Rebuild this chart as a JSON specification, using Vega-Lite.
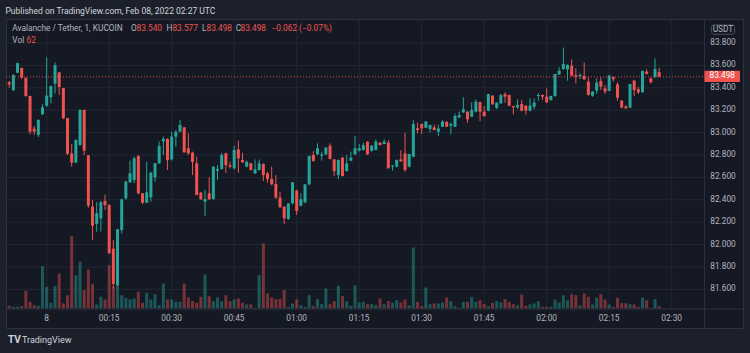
{
"$schema": "https://vega.github.io/schema/vega-lite/v6.json",
"width": 737, "height": 309,
"autosize": {"type": "none"},
"padding": {"left": 6, "top": 19, "right": 7, "bottom": 25},
"background": "#1c202b",
"config": {"view": {"fill": "#151924", "stroke": "#2e3240", "strokeWidth": 1}, "font": "Roboto"},
"title": {"text": "Published on TradingView.com, Feb 08, 2022 02:27 UTC", "anchor": "start", "fontSize": 8.5, "fontWeight": "normal", "color": "#d1d4dc", "offset": 3},
"datasets": {"candles": [
{"t":"2022-02-07T23:51Z","o":83.45,"h":83.46,"l":83.40,"c":83.43,"v":80},
{"t":"2022-02-07T23:52Z","o":83.38,"h":83.52,"l":83.37,"c":83.515,"v":50},
{"t":"2022-02-07T23:53Z","o":83.535,"h":83.625,"l":83.53,"c":83.62,"v":50},
{"t":"2022-02-07T23:54Z","o":83.577,"h":83.58,"l":83.48,"c":83.49,"v":70},
{"t":"2022-02-07T23:55Z","o":83.49,"h":83.49,"l":83.32,"c":83.327,"v":530},
{"t":"2022-02-07T23:56Z","o":83.327,"h":83.33,"l":82.985,"c":83.009,"v":200},
{"t":"2022-02-07T23:57Z","o":83.035,"h":83.06,"l":82.98,"c":83.009,"v":100},
{"t":"2022-02-07T23:58Z","o":82.98,"h":83.12,"l":82.96,"c":83.113,"v":80},
{"t":"2022-02-07T23:59Z","o":83.163,"h":83.253,"l":83.16,"c":83.226,"v":1270},
{"t":"2022-02-08T00:00Z","o":83.24,"h":83.672,"l":83.23,"c":83.33,"v":650},
{"t":"2022-02-08T00:01Z","o":83.315,"h":83.42,"l":83.26,"c":83.416,"v":170},
{"t":"2022-02-08T00:02Z","o":83.437,"h":83.625,"l":83.35,"c":83.601,"v":670},
{"t":"2022-02-08T00:03Z","o":83.538,"h":83.54,"l":83.336,"c":83.407,"v":1050},
{"t":"2022-02-08T00:04Z","o":83.398,"h":83.40,"l":83.12,"c":83.128,"v":150},
{"t":"2022-02-08T00:05Z","o":83.13,"h":83.13,"l":82.80,"c":82.812,"v":400},
{"t":"2022-02-08T00:06Z","o":82.815,"h":82.898,"l":82.696,"c":82.732,"v":2170},
{"t":"2022-02-08T00:07Z","o":82.732,"h":82.94,"l":82.73,"c":82.934,"v":1000},
{"t":"2022-02-08T00:08Z","o":82.89,"h":83.21,"l":82.88,"c":83.202,"v":1400},
{"t":"2022-02-08T00:09Z","o":83.202,"h":83.205,"l":82.80,"c":82.839,"v":550},
{"t":"2022-02-08T00:10Z","o":82.797,"h":82.80,"l":82.33,"c":82.348,"v":1170},
{"t":"2022-02-08T00:11Z","o":82.339,"h":82.40,"l":82.04,"c":82.169,"v":730},
{"t":"2022-02-08T00:12Z","o":82.184,"h":82.38,"l":82.115,"c":82.28,"v":120},
{"t":"2022-02-08T00:13Z","o":82.235,"h":82.39,"l":82.116,"c":82.378,"v":350},
{"t":"2022-02-08T00:14Z","o":82.39,"h":82.446,"l":82.31,"c":82.354,"v":270},
{"t":"2022-02-08T00:15Z","o":82.354,"h":82.36,"l":81.92,"c":81.922,"v":1300},
{"t":"2022-02-08T00:16Z","o":81.964,"h":82.04,"l":81.61,"c":81.648,"v":650},
{"t":"2022-02-08T00:17Z","o":81.64,"h":82.14,"l":81.63,"c":82.137,"v":850},
{"t":"2022-02-08T00:18Z","o":82.13,"h":82.41,"l":82.10,"c":82.404,"v":400},
{"t":"2022-02-08T00:19Z","o":82.413,"h":82.57,"l":82.40,"c":82.562,"v":320},
{"t":"2022-02-08T00:20Z","o":82.556,"h":82.75,"l":82.55,"c":82.637,"v":280},
{"t":"2022-02-08T00:21Z","o":82.577,"h":82.785,"l":82.55,"c":82.77,"v":300},
{"t":"2022-02-08T00:22Z","o":82.79,"h":82.80,"l":82.45,"c":82.458,"v":500},
{"t":"2022-02-08T00:23Z","o":82.458,"h":82.46,"l":82.36,"c":82.374,"v":170},
{"t":"2022-02-08T00:24Z","o":82.374,"h":82.74,"l":82.37,"c":82.467,"v":470},
{"t":"2022-02-08T00:25Z","o":82.422,"h":82.65,"l":82.383,"c":82.642,"v":270},
{"t":"2022-02-08T00:26Z","o":82.60,"h":82.73,"l":82.562,"c":82.726,"v":430},
{"t":"2022-02-08T00:27Z","o":82.726,"h":82.92,"l":82.72,"c":82.88,"v":100},
{"t":"2022-02-08T00:28Z","o":82.922,"h":82.964,"l":82.80,"c":82.943,"v":750},
{"t":"2022-02-08T00:29Z","o":82.943,"h":82.95,"l":82.666,"c":82.755,"v":270},
{"t":"2022-02-08T00:30Z","o":82.76,"h":83.008,"l":82.75,"c":82.964,"v":270},
{"t":"2022-02-08T00:31Z","o":82.964,"h":83.023,"l":82.874,"c":83.005,"v":200},
{"t":"2022-02-08T00:32Z","o":83.01,"h":83.112,"l":83.00,"c":83.068,"v":200},
{"t":"2022-02-08T00:33Z","o":83.047,"h":83.05,"l":82.82,"c":82.824,"v":750},
{"t":"2022-02-08T00:34Z","o":82.86,"h":82.993,"l":82.80,"c":82.815,"v":330},
{"t":"2022-02-08T00:35Z","o":82.821,"h":82.83,"l":82.621,"c":82.737,"v":220},
{"t":"2022-02-08T00:36Z","o":82.726,"h":82.785,"l":82.44,"c":82.443,"v":170},
{"t":"2022-02-08T00:37Z","o":82.464,"h":82.47,"l":82.40,"c":82.404,"v":350},
{"t":"2022-02-08T00:38Z","o":82.383,"h":82.49,"l":82.255,"c":82.407,"v":1020},
{"t":"2022-02-08T00:39Z","o":82.458,"h":82.60,"l":82.40,"c":82.404,"v":370},
{"t":"2022-02-08T00:40Z","o":82.407,"h":82.70,"l":82.40,"c":82.696,"v":220},
{"t":"2022-02-08T00:41Z","o":82.66,"h":82.71,"l":82.577,"c":82.675,"v":330},
{"t":"2022-02-08T00:42Z","o":82.675,"h":82.82,"l":82.67,"c":82.80,"v":220},
{"t":"2022-02-08T00:43Z","o":82.815,"h":82.82,"l":82.64,"c":82.71,"v":400},
{"t":"2022-02-08T00:44Z","o":82.71,"h":82.74,"l":82.68,"c":82.696,"v":220},
{"t":"2022-02-08T00:45Z","o":82.681,"h":82.883,"l":82.67,"c":82.845,"v":270},
{"t":"2022-02-08T00:46Z","o":82.85,"h":82.928,"l":82.642,"c":82.77,"v":300},
{"t":"2022-02-08T00:47Z","o":82.755,"h":82.82,"l":82.73,"c":82.735,"v":170},
{"t":"2022-02-08T00:48Z","o":82.696,"h":82.75,"l":82.69,"c":82.74,"v":120},
{"t":"2022-02-08T00:49Z","o":82.726,"h":82.73,"l":82.66,"c":82.666,"v":120},
{"t":"2022-02-08T00:50Z","o":82.636,"h":82.76,"l":82.63,"c":82.672,"v":20},
{"t":"2022-02-08T00:51Z","o":82.666,"h":82.76,"l":82.66,"c":82.726,"v":1000},
{"t":"2022-02-08T00:52Z","o":82.72,"h":82.725,"l":82.568,"c":82.62,"v":1950},
{"t":"2022-02-08T00:53Z","o":82.636,"h":82.65,"l":82.553,"c":82.586,"v":450},
{"t":"2022-02-08T00:54Z","o":82.586,"h":82.696,"l":82.53,"c":82.538,"v":330},
{"t":"2022-02-08T00:55Z","o":82.541,"h":82.621,"l":82.41,"c":82.419,"v":280},
{"t":"2022-02-08T00:56Z","o":82.419,"h":82.473,"l":82.33,"c":82.333,"v":280},
{"t":"2022-02-08T00:57Z","o":82.339,"h":82.34,"l":82.184,"c":82.235,"v":550},
{"t":"2022-02-08T00:58Z","o":82.229,"h":82.37,"l":82.22,"c":82.368,"v":50},
{"t":"2022-02-08T00:59Z","o":82.368,"h":82.56,"l":82.36,"c":82.556,"v":150},
{"t":"2022-02-08T01:00Z","o":82.482,"h":82.49,"l":82.264,"c":82.30,"v":270},
{"t":"2022-02-08T01:01Z","o":82.348,"h":82.458,"l":82.34,"c":82.404,"v":100},
{"t":"2022-02-08T01:02Z","o":82.377,"h":82.54,"l":82.37,"c":82.538,"v":50},
{"t":"2022-02-08T01:03Z","o":82.538,"h":82.795,"l":82.53,"c":82.791,"v":400},
{"t":"2022-02-08T01:04Z","o":82.80,"h":82.836,"l":82.74,"c":82.746,"v":70},
{"t":"2022-02-08T01:05Z","o":82.806,"h":82.904,"l":82.80,"c":82.86,"v":280},
{"t":"2022-02-08T01:06Z","o":82.794,"h":82.83,"l":82.75,"c":82.806,"v":130},
{"t":"2022-02-08T01:07Z","o":82.806,"h":82.87,"l":82.80,"c":82.866,"v":600},
{"t":"2022-02-08T01:08Z","o":82.883,"h":82.904,"l":82.76,"c":82.764,"v":130},
{"t":"2022-02-08T01:09Z","o":82.761,"h":82.765,"l":82.613,"c":82.657,"v":220},
{"t":"2022-02-08T01:10Z","o":82.621,"h":82.76,"l":82.586,"c":82.755,"v":680},
{"t":"2022-02-08T01:11Z","o":82.776,"h":82.785,"l":82.61,"c":82.612,"v":370},
{"t":"2022-02-08T01:12Z","o":82.657,"h":82.80,"l":82.65,"c":82.726,"v":220},
{"t":"2022-02-08T01:13Z","o":82.749,"h":82.83,"l":82.745,"c":82.776,"v":80},
{"t":"2022-02-08T01:14Z","o":82.806,"h":82.97,"l":82.80,"c":82.86,"v":700},
{"t":"2022-02-08T01:15Z","o":82.839,"h":82.898,"l":82.83,"c":82.86,"v":180},
{"t":"2022-02-08T01:16Z","o":82.845,"h":82.91,"l":82.84,"c":82.889,"v":200},
{"t":"2022-02-08T01:17Z","o":82.919,"h":82.92,"l":82.80,"c":82.806,"v":130},
{"t":"2022-02-08T01:18Z","o":82.836,"h":82.89,"l":82.83,"c":82.883,"v":130},
{"t":"2022-02-08T01:19Z","o":82.845,"h":82.94,"l":82.84,"c":82.919,"v":100},
{"t":"2022-02-08T01:20Z","o":82.91,"h":82.915,"l":82.885,"c":82.889,"v":300},
{"t":"2022-02-08T01:21Z","o":82.898,"h":82.94,"l":82.895,"c":82.919,"v":130},
{"t":"2022-02-08T01:22Z","o":82.91,"h":82.934,"l":82.68,"c":82.681,"v":220},
{"t":"2022-02-08T01:23Z","o":82.696,"h":82.71,"l":82.66,"c":82.705,"v":170},
{"t":"2022-02-08T01:24Z","o":82.696,"h":82.76,"l":82.69,"c":82.755,"v":250},
{"t":"2022-02-08T01:25Z","o":82.761,"h":82.844,"l":82.74,"c":82.743,"v":180},
{"t":"2022-02-08T01:26Z","o":82.815,"h":83.00,"l":82.651,"c":82.666,"v":270},
{"t":"2022-02-08T01:27Z","o":82.696,"h":82.81,"l":82.69,"c":82.809,"v":100},
{"t":"2022-02-08T01:28Z","o":82.785,"h":83.11,"l":82.78,"c":83.077,"v":1830},
{"t":"2022-02-08T01:29Z","o":83.038,"h":83.089,"l":82.993,"c":83.023,"v":200},
{"t":"2022-02-08T01:30Z","o":83.077,"h":83.08,"l":82.99,"c":83.038,"v":70},
{"t":"2022-02-08T01:31Z","o":83.044,"h":83.10,"l":83.04,"c":83.099,"v":630},
{"t":"2022-02-08T01:32Z","o":83.032,"h":83.07,"l":83.00,"c":83.068,"v":130},
{"t":"2022-02-08T01:33Z","o":83.047,"h":83.07,"l":83.02,"c":83.023,"v":150},
{"t":"2022-02-08T01:34Z","o":83.008,"h":83.07,"l":82.97,"c":83.038,"v":150},
{"t":"2022-02-08T01:35Z","o":83.053,"h":83.11,"l":83.05,"c":83.098,"v":180},
{"t":"2022-02-08T01:36Z","o":83.095,"h":83.105,"l":83.05,"c":83.053,"v":330},
{"t":"2022-02-08T01:37Z","o":83.062,"h":83.09,"l":82.984,"c":83.077,"v":220},
{"t":"2022-02-08T01:38Z","o":83.053,"h":83.172,"l":83.05,"c":83.148,"v":70},
{"t":"2022-02-08T01:39Z","o":83.136,"h":83.187,"l":83.13,"c":83.157,"v":20},
{"t":"2022-02-08T01:40Z","o":83.181,"h":83.315,"l":83.175,"c":83.208,"v":200},
{"t":"2022-02-08T01:41Z","o":83.187,"h":83.19,"l":83.088,"c":83.118,"v":200},
{"t":"2022-02-08T01:42Z","o":83.142,"h":83.27,"l":83.14,"c":83.202,"v":350},
{"t":"2022-02-08T01:43Z","o":83.187,"h":83.297,"l":83.18,"c":83.276,"v":200},
{"t":"2022-02-08T01:44Z","o":83.273,"h":83.275,"l":83.103,"c":83.187,"v":250},
{"t":"2022-02-08T01:45Z","o":83.187,"h":83.237,"l":83.14,"c":83.148,"v":130},
{"t":"2022-02-08T01:46Z","o":83.196,"h":83.345,"l":83.19,"c":83.344,"v":70},
{"t":"2022-02-08T01:47Z","o":83.33,"h":83.335,"l":83.25,"c":83.252,"v":170},
{"t":"2022-02-08T01:48Z","o":83.222,"h":83.27,"l":83.21,"c":83.267,"v":220},
{"t":"2022-02-08T01:49Z","o":83.261,"h":83.345,"l":83.255,"c":83.335,"v":180},
{"t":"2022-02-08T01:50Z","o":83.344,"h":83.359,"l":83.267,"c":83.321,"v":280},
{"t":"2022-02-08T01:51Z","o":83.335,"h":83.34,"l":83.235,"c":83.24,"v":200},
{"t":"2022-02-08T01:52Z","o":83.237,"h":83.24,"l":83.163,"c":83.225,"v":130},
{"t":"2022-02-08T01:53Z","o":83.225,"h":83.297,"l":83.21,"c":83.246,"v":100},
{"t":"2022-02-08T01:54Z","o":83.255,"h":83.291,"l":83.19,"c":83.196,"v":420},
{"t":"2022-02-08T01:55Z","o":83.24,"h":83.245,"l":83.16,"c":83.196,"v":80},
{"t":"2022-02-08T01:56Z","o":83.196,"h":83.306,"l":83.19,"c":83.241,"v":120},
{"t":"2022-02-08T01:57Z","o":83.232,"h":83.306,"l":83.208,"c":83.267,"v":150},
{"t":"2022-02-08T01:58Z","o":83.327,"h":83.351,"l":83.285,"c":83.336,"v":220},
{"t":"2022-02-08T01:59Z","o":83.336,"h":83.34,"l":83.291,"c":83.321,"v":50},
{"t":"2022-02-08T02:00Z","o":83.321,"h":83.395,"l":83.265,"c":83.27,"v":50},
{"t":"2022-02-08T02:01Z","o":83.291,"h":83.33,"l":83.285,"c":83.327,"v":50},
{"t":"2022-02-08T02:02Z","o":83.327,"h":83.525,"l":83.32,"c":83.523,"v":270},
{"t":"2022-02-08T02:03Z","o":83.52,"h":83.583,"l":83.515,"c":83.553,"v":180},
{"t":"2022-02-08T02:04Z","o":83.568,"h":83.759,"l":83.56,"c":83.613,"v":400},
{"t":"2022-02-08T02:05Z","o":83.565,"h":83.61,"l":83.464,"c":83.604,"v":250},
{"t":"2022-02-08T02:06Z","o":83.598,"h":83.654,"l":83.50,"c":83.509,"v":430},
{"t":"2022-02-08T02:07Z","o":83.514,"h":83.574,"l":83.44,"c":83.50,"v":400},
{"t":"2022-02-08T02:08Z","o":83.505,"h":83.529,"l":83.479,"c":83.514,"v":100},
{"t":"2022-02-08T02:09Z","o":83.505,"h":83.625,"l":83.47,"c":83.476,"v":450},
{"t":"2022-02-08T02:10Z","o":83.455,"h":83.494,"l":83.33,"c":83.336,"v":350},
{"t":"2022-02-08T02:11Z","o":83.33,"h":83.37,"l":83.32,"c":83.366,"v":120},
{"t":"2022-02-08T02:12Z","o":83.375,"h":83.485,"l":83.345,"c":83.446,"v":330},
{"t":"2022-02-08T02:13Z","o":83.461,"h":83.494,"l":83.38,"c":83.41,"v":430},
{"t":"2022-02-08T02:14Z","o":83.395,"h":83.425,"l":83.345,"c":83.366,"v":270},
{"t":"2022-02-08T02:15Z","o":83.372,"h":83.515,"l":83.37,"c":83.509,"v":120},
{"t":"2022-02-08T02:16Z","o":83.494,"h":83.50,"l":83.455,"c":83.476,"v":50},
{"t":"2022-02-08T02:17Z","o":83.431,"h":83.449,"l":83.285,"c":83.312,"v":320},
{"t":"2022-02-08T02:18Z","o":83.285,"h":83.29,"l":83.22,"c":83.223,"v":160},
{"t":"2022-02-08T02:19Z","o":83.232,"h":83.247,"l":83.211,"c":83.217,"v":160},
{"t":"2022-02-08T02:20Z","o":83.223,"h":83.435,"l":83.22,"c":83.434,"v":130},
{"t":"2022-02-08T02:21Z","o":83.464,"h":83.47,"l":83.327,"c":83.38,"v":120},
{"t":"2022-02-08T02:22Z","o":83.387,"h":83.41,"l":83.345,"c":83.36,"v":50},
{"t":"2022-02-08T02:23Z","o":83.36,"h":83.555,"l":83.355,"c":83.55,"v":330},
{"t":"2022-02-08T02:24Z","o":83.544,"h":83.565,"l":83.52,"c":83.523,"v":250},
{"t":"2022-02-08T02:25Z","o":83.485,"h":83.49,"l":83.44,"c":83.449,"v":20},
{"t":"2022-02-08T02:26Z","o":83.494,"h":83.663,"l":83.49,"c":83.568,"v":280},
{"t":"2022-02-08T02:27Z","o":83.54,"h":83.577,"l":83.498,"c":83.498,"v":62}
],
"priceTicks": [{"p":81.6},{"p":81.8},{"p":82.0},{"p":82.2},{"p":82.4},{"p":82.6},{"p":82.8},{"p":83.0},{"p":83.2},{"p":83.4},{"p":83.6},{"p":83.8}],
"timeTicks": [{"g":"2022-02-08T00:00Z","lab":"8"},{"g":"2022-02-08T00:15Z","lab":"00:15"},{"g":"2022-02-08T00:30Z","lab":"00:30"},{"g":"2022-02-08T00:45Z","lab":"00:45"},{"g":"2022-02-08T01:00Z","lab":"01:00"},{"g":"2022-02-08T01:15Z","lab":"01:15"},{"g":"2022-02-08T01:30Z","lab":"01:30"},{"g":"2022-02-08T01:45Z","lab":"01:45"},{"g":"2022-02-08T02:00Z","lab":"02:00"},{"g":"2022-02-08T02:15Z","lab":"02:15"},{"g":"2022-02-08T02:30Z","lab":"02:30"}]
},
"layer": [
 {"layer": [
   {"data": {"name": "priceTicks"},
    "mark": {"type": "rule", "color": "#232734", "strokeWidth": 1},
    "encoding": {
      "y": {"field": "p", "type": "quantitative", "scale": {"domain": [81.2554, 84.0143], "nice": false, "zero": false, "padding": 0}, "axis": null},
      "x": {"datum": {"year":2022,"month":2,"date":7,"hours":23,"minutes":50,"seconds":14,"utc":true}, "type": "temporal", "scale": {"type": "utc", "padding": 0, "domain": [{"year":2022,"month":2,"date":7,"hours":23,"minutes":50,"seconds":14,"utc":true},{"year":2022,"month":2,"date":8,"hours":2,"minutes":47,"seconds":7,"utc":true}]}, "axis": null},
      "x2": {"datum": {"year":2022,"month":2,"date":8,"hours":2,"minutes":37,"seconds":52,"utc":true}}
    }},
   {"data": {"name": "timeTicks"},
    "mark": {"type": "rule", "color": "#232734", "strokeWidth": 1},
    "encoding": {
      "x": {"field": "g", "type": "temporal", "axis": null},
      "y": {"datum": 81.425, "axis": null},
      "y2": {"datum": 84.0143}
    }}
 ]},
 {"data": {"name": "candles"},
  "mark": {"type": "bar", "width": 3},
  "encoding": {
    "x": {"field": "t", "type": "temporal", "axis": null, "scale": {"type": "utc", "padding": 0}},
    "y": {"field": "v", "type": "quantitative", "scale": {"domain": [-585, 8685], "nice": false, "zero": false, "padding": 0}, "axis": null, "stack": null},
    "y2": {"datum": 0},
    "color": {"condition": {"test": "datum.c >= datum.o", "value": "#26a69a"}, "value": "#ef5350"},
    "opacity": {"value": 0.45}
  }},
 {"layer": [
   {"data": {"name": "candles"},
    "mark": {"type": "rule", "strokeWidth": 1},
    "encoding": {
      "x": {"field": "t", "type": "temporal", "axis": null, "scale": {"type": "utc", "padding": 0}},
      "y": {"field": "l", "type": "quantitative", "scale": {"domain": [81.2554, 84.0143], "nice": false, "zero": false, "padding": 0}, "axis": null},
      "y2": {"field": "h"},
      "color": {"condition": {"test": "datum.c >= datum.o", "value": "#26a69a"}, "value": "#ef5350"}
    }},
   {"data": {"name": "candles"},
    "mark": {"type": "bar", "width": 3},
    "encoding": {
      "x": {"field": "t", "type": "temporal", "axis": null},
      "y": {"field": "o", "type": "quantitative", "axis": null},
      "y2": {"field": "c"},
      "color": {"condition": {"test": "datum.c >= datum.o", "value": "#26a69a"}, "value": "#ef5350"}
    }},
   {"data": {"values": [{}]},
    "mark": {"type": "rule", "color": "#ef5350", "strokeDash": [1, 2], "strokeWidth": 1, "opacity": 0.9},
    "encoding": {
      "x": {"datum": {"year":2022,"month":2,"date":7,"hours":23,"minutes":50,"seconds":14,"utc":true}, "type": "temporal", "axis": null},
      "x2": {"datum": {"year":2022,"month":2,"date":8,"hours":2,"minutes":37,"seconds":52,"utc":true}},
      "y": {"datum": 83.498, "axis": null}
    }},
   {"data": {"values": [{}]},
    "mark": {"type": "rule", "color": "#2e3240", "strokeWidth": 1},
    "encoding": {"x": {"datum": {"year":2022,"month":2,"date":8,"hours":2,"minutes":37,"seconds":52,"utc":true}, "type": "temporal", "axis": null}}},
   {"data": {"values": [{}]},
    "mark": {"type": "rule", "color": "#2e3240", "strokeWidth": 1},
    "encoding": {"y": {"datum": 81.425, "axis": null}}},
   {"data": {"name": "priceTicks"},
    "mark": {"type": "text", "color": "#b2b5be", "fontSize": 8.3, "align": "center", "baseline": "middle"},
    "encoding": {
      "x": {"datum": {"year":2022,"month":2,"date":8,"hours":2,"minutes":42,"seconds":19,"utc":true}, "type": "temporal", "axis": null},
      "y": {"field": "p", "type": "quantitative", "axis": null},
      "text": {"field": "p", "type": "quantitative", "format": ".3f"}
    }},
   {"data": {"name": "timeTicks"},
    "mark": {"type": "text", "color": "#b2b5be", "fontSize": 8.3, "align": "center", "baseline": "middle"},
    "encoding": {
      "x": {"field": "g", "type": "temporal", "axis": null},
      "y": {"datum": 81.336, "axis": null},
      "text": {"field": "lab", "type": "nominal"}
    }},
   {"data": {"values": [{}]},
    "mark": {"type": "rect", "color": "#ef5350", "cornerRadius": 1},
    "encoding": {
      "x": {"datum": {"year":2022,"month":2,"date":8,"hours":2,"minutes":37,"seconds":52,"utc":true}, "type": "temporal", "axis": null},
      "x2": {"datum": {"year":2022,"month":2,"date":8,"hours":2,"minutes":46,"seconds":23,"utc":true}},
      "y": {"datum": 83.553, "axis": null},
      "y2": {"datum": 83.452}
    }},
   {"data": {"values": [{}]},
    "mark": {"type": "text", "text": "83.498", "color": "#ffffff", "fontSize": 8.3, "align": "center", "baseline": "middle"},
    "encoding": {
      "x": {"datum": {"year":2022,"month":2,"date":8,"hours":2,"minutes":42,"seconds":8,"utc":true}, "type": "temporal", "axis": null},
      "y": {"datum": 83.502, "axis": null}
    }},
   {"data": {"values": [{}]},
    "mark": {"type": "rect", "fill": "#151924", "stroke": "#4a4e59", "strokeWidth": 1, "cornerRadius": 2},
    "encoding": {
      "x": {"datum": {"year":2022,"month":2,"date":8,"hours":2,"minutes":39,"seconds":32,"utc":true}, "type": "temporal", "axis": null},
      "x2": {"datum": {"year":2022,"month":2,"date":8,"hours":2,"minutes":45,"seconds":6,"utc":true}},
      "y": {"datum": 83.961, "axis": null},
      "y2": {"datum": 83.878}
    }},
   {"data": {"values": [{}]},
    "mark": {"type": "text", "text": "USDT", "color": "#b2b5be", "fontSize": 8.3, "align": "center", "baseline": "middle"},
    "encoding": {
      "x": {"datum": {"year":2022,"month":2,"date":8,"hours":2,"minutes":42,"seconds":19,"utc":true}, "type": "temporal", "axis": null},
      "y": {"datum": 83.919, "axis": null}
    }},
   {"data": {"values": [{}]},
    "mark": {"type": "text", "text": "Avalanche / Tether, 1, KUCOIN", "color": "#b2b5be", "fontSize": 8.3, "align": "left", "baseline": "middle"},
    "encoding": {"x": {"datum": {"year":2022,"month":2,"date":7,"hours":23,"minutes":51,"seconds":45,"utc":true}, "type": "temporal", "axis": null}, "y": {"datum": 83.922, "axis": null}}},
   {"data": {"values": [{}]},
    "mark": {"type": "text", "text": "O", "color": "#b2b5be", "fontSize": 8.3, "align": "left", "baseline": "middle"},
    "encoding": {"x": {"datum": {"year":2022,"month":2,"date":8,"hours":0,"minutes":20,"seconds":14,"utc":true}, "type": "temporal", "axis": null}, "y": {"datum": 83.922, "axis": null}}},
   {"data": {"values": [{}]},
    "mark": {"type": "text", "text": "83.540", "color": "#ef5350", "fontSize": 8.3, "align": "left", "baseline": "middle"},
    "encoding": {"x": {"datum": {"year":2022,"month":2,"date":8,"hours":0,"minutes":21,"seconds":33,"utc":true}, "type": "temporal", "axis": null}, "y": {"datum": 83.922, "axis": null}}},
   {"data": {"values": [{}]},
    "mark": {"type": "text", "text": "H", "color": "#b2b5be", "fontSize": 8.3, "align": "left", "baseline": "middle"},
    "encoding": {"x": {"datum": {"year":2022,"month":2,"date":8,"hours":0,"minutes":28,"seconds":45,"utc":true}, "type": "temporal", "axis": null}, "y": {"datum": 83.922, "axis": null}}},
   {"data": {"values": [{}]},
    "mark": {"type": "text", "text": "83.577", "color": "#ef5350", "fontSize": 8.3, "align": "left", "baseline": "middle"},
    "encoding": {"x": {"datum": {"year":2022,"month":2,"date":8,"hours":0,"minutes":30,"seconds":10,"utc":true}, "type": "temporal", "axis": null}, "y": {"datum": 83.922, "axis": null}}},
   {"data": {"values": [{}]},
    "mark": {"type": "text", "text": "L", "color": "#b2b5be", "fontSize": 8.3, "align": "left", "baseline": "middle"},
    "encoding": {"x": {"datum": {"year":2022,"month":2,"date":8,"hours":0,"minutes":37,"seconds":16,"utc":true}, "type": "temporal", "axis": null}, "y": {"datum": 83.922, "axis": null}}},
   {"data": {"values": [{}]},
    "mark": {"type": "text", "text": "83.498", "color": "#ef5350", "fontSize": 8.3, "align": "left", "baseline": "middle"},
    "encoding": {"x": {"datum": {"year":2022,"month":2,"date":8,"hours":0,"minutes":38,"seconds":21,"utc":true}, "type": "temporal", "axis": null}, "y": {"datum": 83.922, "axis": null}}},
   {"data": {"values": [{}]},
    "mark": {"type": "text", "text": "C", "color": "#b2b5be", "fontSize": 8.3, "align": "left", "baseline": "middle"},
    "encoding": {"x": {"datum": {"year":2022,"month":2,"date":8,"hours":0,"minutes":45,"seconds":23,"utc":true}, "type": "temporal", "axis": null}, "y": {"datum": 83.922, "axis": null}}},
   {"data": {"values": [{}]},
    "mark": {"type": "text", "text": "83.498", "color": "#ef5350", "fontSize": 8.3, "align": "left", "baseline": "middle"},
    "encoding": {"x": {"datum": {"year":2022,"month":2,"date":8,"hours":0,"minutes":46,"seconds":31,"utc":true}, "type": "temporal", "axis": null}, "y": {"datum": 83.922, "axis": null}}},
   {"data": {"values": [{}]},
    "mark": {"type": "text", "text": "−0.062 (−0.07%)", "color": "#ef5350", "fontSize": 8.3, "align": "left", "baseline": "middle"},
    "encoding": {"x": {"datum": {"year":2022,"month":2,"date":8,"hours":0,"minutes":53,"seconds":57,"utc":true}, "type": "temporal", "axis": null}, "y": {"datum": 83.922, "axis": null}}},
   {"data": {"values": [{}]},
    "mark": {"type": "text", "text": "Vol", "color": "#b2b5be", "fontSize": 8.3, "align": "left", "baseline": "middle"},
    "encoding": {"x": {"datum": {"year":2022,"month":2,"date":7,"hours":23,"minutes":51,"seconds":45,"utc":true}, "type": "temporal", "axis": null}, "y": {"datum": 83.818, "axis": null}}},
   {"data": {"values": [{}]},
    "mark": {"type": "text", "text": "62", "color": "#ef5350", "fontSize": 8.3, "align": "left", "baseline": "middle"},
    "encoding": {"x": {"datum": {"year":2022,"month":2,"date":7,"hours":23,"minutes":55,"seconds":10,"utc":true}, "type": "temporal", "axis": null}, "y": {"datum": 83.818, "axis": null}}},
   {"data": {"values": [{}]},
    "mark": {"type": "text", "text": "TV", "color": "#d1d4dc", "fontSize": 10, "fontWeight": "bold", "align": "left", "baseline": "middle"},
    "encoding": {"x": {"datum": {"year":2022,"month":2,"date":7,"hours":23,"minutes":50,"seconds":43,"utc":true}, "type": "temporal", "axis": null}, "y": {"datum": 81.148, "axis": null}}},
   {"data": {"values": [{}]},
    "mark": {"type": "text", "text": "TradingView", "color": "#d1d4dc", "fontSize": 9, "align": "left", "baseline": "middle"},
    "encoding": {"x": {"datum": {"year":2022,"month":2,"date":7,"hours":23,"minutes":54,"seconds":4,"utc":true}, "type": "temporal", "axis": null}, "y": {"datum": 81.148, "axis": null}}}
 ]}
],
"resolve": {"scale": {"y": "independent"}}
}
